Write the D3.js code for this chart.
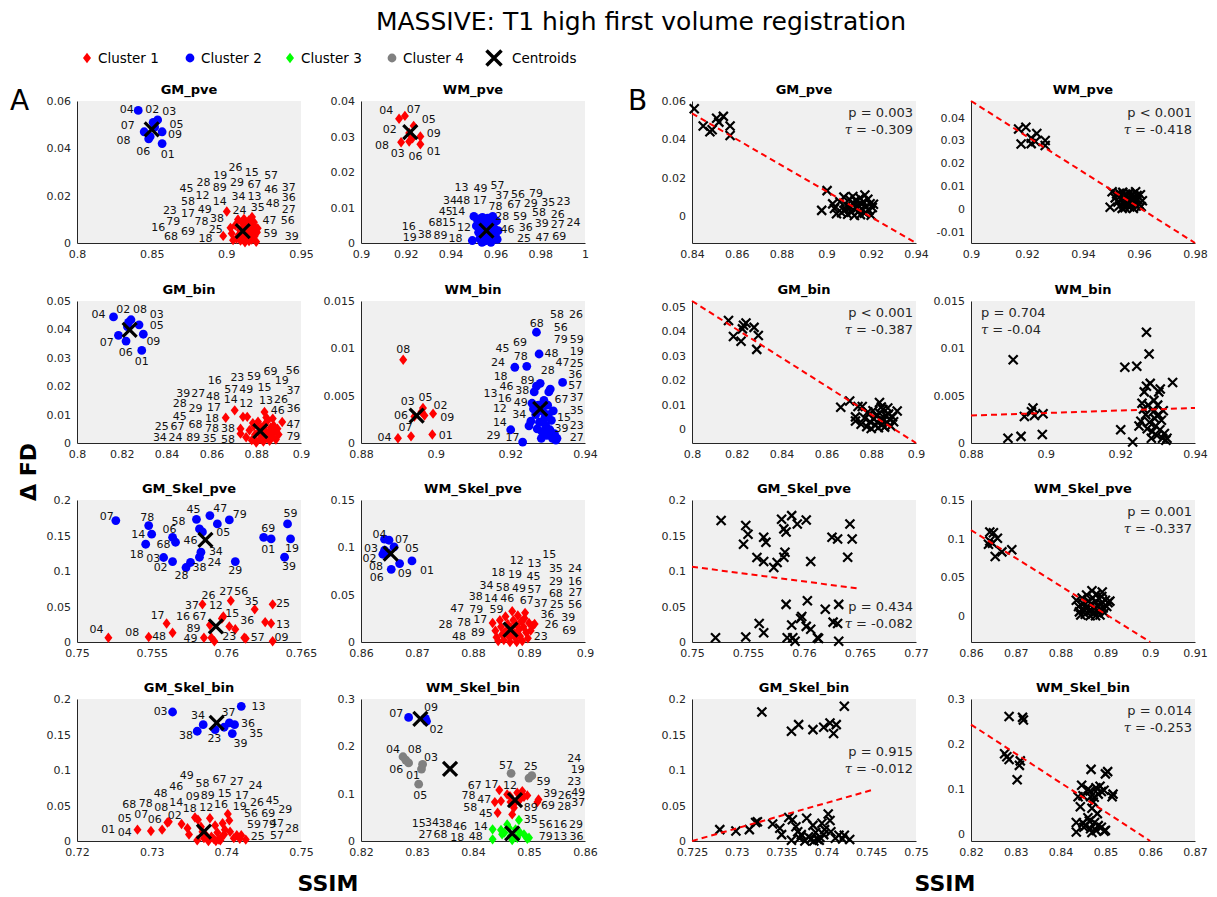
<!DOCTYPE html>
<html>
<head>
<meta charset="utf-8">
<script src="https://cdn.jsdelivr.net/npm/d3@7"></script>
<style>
  body { margin: 0; background: #fff; }
  text { font-family: "DejaVu Sans", sans-serif; }
</style>
</head>
<body>
<div id="chart"></div>
<script>
// ---- data ----
const panelNames = ["GM_pve", "WM_pve", "GM_bin", "WM_bin", "GM_Skel_pve", "WM_Skel_pve", "GM_Skel_bin", "WM_Skel_bin"];
const clusterNames = ["Cluster 1", "Cluster 2", "Cluster 3", "Cluster 4"];

// GM_pve
const gmPveC1 = [[0.9003,0.0133],[0.8979,0.0030],[0.9028,0.0064],[0.9036,0.0040],[0.9045,0.0012],[0.9060,0.0075],[0.9078,0.0099],[0.9078,0.0029],[0.9090,0.0055],[0.9095,0.0010],[0.9102,0.0088],[0.9108,0.0047],[0.9112,0.0020],[0.9120,0.0068],[0.9125,0.0003],[0.9130,0.0082],[0.9135,0.0040],[0.9140,0.0058],[0.9144,0.0025],[0.9150,0.0095],[0.9152,0.0008],[0.9158,0.0062],[0.9160,0.0035],[0.9165,0.0075],[0.9170,0.0015],[0.9172,0.0110],[0.9178,0.0050],[0.9185,0.0088],[0.9190,0.0030],[0.9195,0.0065],[0.9200,0.0005],[0.9205,0.0045],[0.9210,0.0062],[0.9085,0.0035],[0.9068,0.0018],[0.9118,0.0102]];
const gmPveC2 = [[0.857,0.042],[0.851,0.051],[0.854,0.052],[0.841,0.056],[0.852,0.049],[0.849,0.045],[0.845,0.047],[0.848,0.044],[0.857,0.047]];
const gmPveCent = [[0.911,0.005],[0.850,0.048]];
const gmPveLabels = [["04",0.8333,0.0565],["02",0.8504,0.0565],["03",0.8618,0.0558],["05",0.8667,0.0503],["07",0.834,0.0496],["09",0.8656,0.0459],["08",0.8311,0.0436],["06",0.8444,0.0389],["01",0.8607,0.0377],
  ["26",0.9062,0.0320],["15",0.9171,0.0299],["57",0.9300,0.0285],["19",0.8960,0.0288],["29",0.9071,0.0257],["67",0.9189,0.0249],["46",0.9300,0.0229],["37",0.9418,0.0236],["28",0.8847,0.0256],["89",0.8956,0.0236],["45",0.8733,0.0232],["12",0.8840,0.0201],["34",0.9082,0.0197],["13",0.9189,0.0197],["36",0.9418,0.0194],["58",0.8744,0.0176],["14",0.8956,0.0178],["48",0.9311,0.0169],["35",0.9211,0.0152],["23",0.8622,0.0140],["49",0.8856,0.0143],["24",0.9089,0.0140],["27",0.9418,0.0145],["17",0.8744,0.0125],["79",0.8644,0.0094],["78",0.8833,0.0094],["38",0.8938,0.0103],["47",0.9289,0.0098],["56",0.9411,0.0098],["16",0.8544,0.0066],["25",0.8929,0.0060],["68",0.8629,0.0028],["69",0.8744,0.0049],["18",0.8860,0.0021],["59",0.9296,0.0042],["39",0.9438,0.0031]];

// WM_pve
const wmPveC1 = [[0.9265,0.0278],[0.9215,0.0310],[0.9215,0.0286],[0.9170,0.0350],[0.9235,0.0330],[0.9230,0.0295],[0.9196,0.0358],[0.9179,0.0284],[0.9265,0.0300]];
const wmPveC2 = [[0.9504,0.0075],[0.9497,0.0007],[0.9515,0.0048],[0.9520,0.0065],[0.9525,0.0030],[0.9530,0.0012],[0.9535,0.0058],[0.9538,0.0040],[0.9542,0.0072],[0.9545,0.0020],[0.9548,0.0050],[0.9550,0.0005],[0.9553,0.0035],[0.9556,0.0062],[0.9558,0.0015],[0.9560,0.0045],[0.9562,0.0028],[0.9565,0.0070],[0.9567,0.0008],[0.9570,0.0055],[0.9572,0.0038],[0.9575,0.0020],[0.9578,0.0065],[0.9580,0.0002],[0.9582,0.0048],[0.9585,0.0030],[0.9588,0.0075],[0.9590,0.0012],[0.9593,0.0058],[0.9596,0.0040],[0.9600,0.0020],[0.9605,0.0062],[0.9608,0.0010],[0.9540,0.0002],[0.9530,0.0068],[0.9612,0.0035]];
const wmPveCent = [[0.922,0.0312],[0.956,0.0035]];
const wmPveLabels = [["04",0.9113,0.0373],["07",0.9236,0.0378],["05",0.9303,0.0348],["02",0.9128,0.0320],["09",0.9325,0.0309],["08",0.9094,0.0276],["03",0.9164,0.0253],["06",0.9243,0.0244],["01",0.9325,0.0258],
  ["13",0.9449,0.0156],["49",0.9534,0.0154],["57",0.9609,0.0164],["37",0.9631,0.0136],["56",0.9701,0.0138],["79",0.9781,0.0141],["34",0.9397,0.0122],["48",0.9457,0.0122],["17",0.9531,0.0122],["67",0.9684,0.0109],["29",0.9758,0.0112],["35",0.9836,0.0114],["23",0.9904,0.0117],["45",0.9378,0.0091],["14",0.9434,0.0091],["78",0.9601,0.0103],["28",0.9631,0.0075],["59",0.9710,0.0077],["58",0.9795,0.0086],["26",0.9878,0.0082],["68",0.9333,0.0059],["15",0.9393,0.0059],["12",0.9460,0.0044],["46",0.9654,0.0040],["36",0.9736,0.0044],["39",0.9807,0.0056],["27",0.9878,0.0054],["24",0.9949,0.0058],["16",0.9213,0.0047],["19",0.9218,0.0016],["38",0.9285,0.0025],["89",0.9355,0.0021],["18",0.9422,0.0014],["25",0.9728,0.0014],["47",0.9810,0.0017],["69",0.9885,0.0019]];

// GM_bin
const gmBinC1 = [[0.8664,0.0089],[0.8704,0.0115],[0.8741,0.0092],[0.8760,0.0092],[0.8837,0.0109],[0.8730,0.0050],[0.8730,0.0033],[0.8874,0.0086],[0.8916,0.0074],[0.8755,0.0020],[0.8770,0.0045],[0.8780,0.0010],[0.8790,0.0060],[0.8795,0.0030],[0.8800,0.0002],[0.8808,0.0075],[0.8812,0.0040],[0.8818,0.0015],[0.8822,0.0055],[0.8828,0.0028],[0.8832,0.0005],[0.8838,0.0065],[0.8842,0.0042],[0.8848,0.0018],[0.8852,0.0080],[0.8855,0.0035],[0.8860,0.0008],[0.8865,0.0055],[0.8870,0.0025],[0.8878,0.0062],[0.8882,0.0040],[0.8888,0.0012],[0.8895,0.0050],[0.8900,0.0030],[0.8785,0.0070],[0.8845,0.0090]];
const gmBinC2 = [[0.8289,0.0326],[0.8230,0.0425],[0.8277,0.0416],[0.8163,0.0444],[0.8225,0.0410],[0.8219,0.0359],[0.8185,0.0379],[0.8241,0.0434],[0.8296,0.0383]];
const gmBinCent = [[0.8818,0.0042],[0.8235,0.0398]];
const gmBinLabels = [["04",0.8096,0.0455],["02",0.8207,0.0473],["08",0.8281,0.0473],["03",0.8356,0.0453],["05",0.8356,0.0414],["07",0.8133,0.0356],["09",0.8341,0.0359],["06",0.8218,0.0320],["01",0.8289,0.0289],
  ["16",0.8615,0.0223],["23",0.8716,0.0232],["59",0.8790,0.0235],["69",0.8864,0.0252],["56",0.8963,0.0256],["39",0.8474,0.0176],["27",0.8541,0.0176],["48",0.8607,0.0164],["57",0.8689,0.0191],["49",0.8756,0.0188],["15",0.8837,0.0197],["19",0.8914,0.0221],["37",0.8967,0.0185],["28",0.8459,0.0139],["29",0.8529,0.0123],["17",0.8612,0.0127],["14",0.8686,0.0156],["12",0.8756,0.0141],["13",0.8844,0.0150],["26",0.8911,0.0156],["36",0.8967,0.0123],["45",0.8459,0.0095],["18",0.8603,0.0089],["46",0.8896,0.0115],["25",0.8378,0.0059],["67",0.8449,0.0059],["68",0.8529,0.0068],["78",0.8603,0.0054],["38",0.8674,0.0054],["47",0.8967,0.0066],["34",0.8370,0.0021],["24",0.8440,0.0021],["89",0.8519,0.0021],["35",0.8593,0.0018],["58",0.8674,0.0015],["79",0.8966,0.0023]];

// WM_bin
const wmBinC1 = [[0.8991,0.0009],[0.8993,0.0031],[0.8962,0.0033],[0.8899,0.0005],[0.8966,0.0037],[0.8943,0.0028],[0.8934,0.0007],[0.8913,0.0088],[0.8970,0.0029]];
const wmBinC2 = [[0.9270,0.0117],[0.9277,0.0094],[0.9212,0.0080],[0.9244,0.0081],[0.9280,0.0063],[0.9340,0.0064],[0.9307,0.0057],[0.9264,0.0054],[0.9201,0.0014],[0.9233,0.0001],[0.9313,0.0005],[0.9325,0.0005],[0.9270,0.0060],[0.9303,0.0054],[0.9250,0.0018],[0.9255,0.0023],[0.9262,0.0036],[0.9268,0.0030],[0.9275,0.0040],[0.9278,0.0022],[0.9285,0.0012],[0.9288,0.0033],[0.9292,0.0026],[0.9295,0.0018],[0.9298,0.0008],[0.9302,0.0030],[0.9306,0.0014],[0.9310,0.0024],[0.9315,0.0034],[0.9318,0.0010],[0.9322,0.0003],[0.9283,0.0005],[0.9290,0.0045],[0.9272,0.0015],[0.9258,0.0042],[0.9300,0.0040]];
const wmBinCent = [[0.8949,0.0029],[0.9280,0.0036]];
const wmBinLabels = [["08",0.8913,0.00996],["03",0.8925,0.0044],["05",0.8973,0.0048],["02",0.9013,0.0040],["06",0.8907,0.0029],["09",0.9031,0.0027],["07",0.8919,0.0017],["04",0.8863,0.0006],["01",0.9027,0.0008],
  ["58",0.9325,0.01366],["26",0.9376,0.01366],["68",0.9271,0.01261],["56",0.9335,0.01225],["69",0.9226,0.01067],["79",0.9335,0.01095],["59",0.9378,0.01095],["45",0.9179,0.01004],["78",0.9228,0.00915],["48",0.9310,0.00951],["19",0.9378,0.00972],["24",0.9167,0.00856],["47",0.9340,0.00856],["25",0.9378,0.00845],["18",0.9174,0.00708],["28",0.9300,0.00768],["36",0.9374,0.00725],["46",0.9190,0.00599],["89",0.9246,0.00662],["38",0.9232,0.00556],["57",0.9374,0.00616],["13",0.9147,0.00528],["16",0.9185,0.00475],["49",0.9228,0.00433],["67",0.9337,0.00468],["37",0.9378,0.00486],["12",0.9172,0.00363],["34",0.9224,0.00310],["35",0.9378,0.00352],["14",0.9172,0.00222],["15",0.9344,0.00275],["23",0.9378,0.00187],["29",0.9155,0.00081],["17",0.9206,0.00063],["39",0.9337,0.00158],["27",0.9378,0.00063]];

// GM_Skel_pve
const gmSkPveC1 = [[0.7521,0.006],[0.7548,0.007],[0.7560,0.026],[0.7564,0.013],[0.7584,0.053],[0.7585,0.006],[0.7589,0.024],[0.7590,0.006],[0.7592,0.001],[0.7597,0.033],[0.7598,0.036],[0.7603,0.058],[0.7602,0.022],[0.7606,0.018],[0.7612,0.006],[0.7613,0.005],[0.7619,0.046],[0.7626,0.028],[0.7631,0.053],[0.7630,0.026],[0.7631,0.001]];
const gmSkPveC2 = [[0.7526,0.171],[0.7548,0.164],[0.7550,0.1518],[0.7546,0.1377],[0.7564,0.1475],[0.7566,0.1405],[0.7558,0.119],[0.7564,0.1133],[0.7573,0.1049],[0.7576,0.112],[0.7580,0.1728],[0.7582,0.1593],[0.7589,0.178],[0.7594,0.1663],[0.7602,0.1719],[0.7584,0.155],[0.7583,0.1265],[0.7582,0.1194],[0.7606,0.1133],[0.7625,0.1475],[0.7630,0.1452],[0.7641,0.1663],[0.7643,0.1452],[0.7639,0.1194]];
const gmSkPveCent = [[0.7593,0.022],[0.7586,0.1438]];
const gmSkPveLabels = [["07",0.7520,0.1775],["78",0.7547,0.1752],["14",0.7541,0.1518],["18",0.7540,0.1236],["06",0.7562,0.1593],["68",0.7558,0.1377],["03",0.7551,0.1180],["02",0.7556,0.1049],["28",0.7570,0.0937],["38",0.7582,0.1049],["45",0.7578,0.1869],["58",0.7568,0.1696],["47",0.7596,0.1892],["05",0.7598,0.1546],["79",0.7609,0.1799],["46",0.7576,0.1438],["34",0.7593,0.1274],["24",0.7592,0.1124],["29",0.7606,0.1007],["69",0.7628,0.1602],["01",0.7628,0.1311],["59",0.7643,0.1813],["19",0.7644,0.1321],["39",0.7642,0.1063],
  ["26",0.7588,0.0665],["27",0.7600,0.0712],["56",0.7610,0.0712],["37",0.7577,0.0515],["12",0.7593,0.0515],["35",0.7617,0.0571],["25",0.7638,0.0548],["17",0.7554,0.0384],["16",0.7571,0.0361],["67",0.7582,0.0361],["15",0.7604,0.0407],["36",0.7614,0.0314],["13",0.7638,0.0253],["89",0.7578,0.0197],["04",0.7513,0.0187],["08",0.7537,0.0141],["48",0.7555,0.0089],["49",0.7576,0.0056],["23",0.7602,0.0080],["57",0.7621,0.0066],["09",0.7637,0.0066]];

// WM_Skel_pve
const wmSkPveC1 = [[0.8835,0.0200],[0.8840,0.0120],[0.8842,0.0050],[0.8848,0.0230],[0.8850,0.0160],[0.8852,0.0080],[0.8855,0.0020],[0.8858,0.0270],[0.8860,0.0120],[0.8862,0.0190],[0.8864,0.0060],[0.8866,0.0000],[0.8868,0.0150],[0.8870,0.0325],[0.8872,0.0230],[0.8874,0.0090],[0.8876,0.0040],[0.8878,0.0180],[0.8880,0.0280],[0.8882,0.0130],[0.8884,0.0060],[0.8886,0.0220],[0.8888,0.0010],[0.8890,0.0160],[0.8893,0.0308],[0.8895,0.0100],[0.8898,0.0040],[0.8900,0.0200],[0.8903,0.0120],[0.8906,0.0170],[0.8910,0.0190],[0.8845,0.0010],[0.8878,0.0000],[0.8856,0.0100],[0.8868,0.0070],[0.8892,0.0250]];
const wmSkPveC2 = [[0.8642,0.1086],[0.8650,0.1075],[0.8659,0.1005],[0.8642,0.0969],[0.8639,0.0927],[0.8648,0.0940],[0.8654,0.0768],[0.8669,0.0828],[0.8691,0.0856]];
const wmSkPveCent = [[0.8867,0.0131],[0.8653,0.0934]];
const wmSkPveLabels = [["04",0.8633,0.1141],["07",0.8673,0.1089],["05",0.8691,0.0993],["03",0.8618,0.0993],["02",0.8615,0.0881],["08",0.8627,0.0803],["06",0.8628,0.0686],["09",0.8678,0.0732],["01",0.8718,0.0761],
  ["15",0.8936,0.0927],["12",0.8878,0.0863],["13",0.8910,0.0838],["35",0.8948,0.0778],["24",0.8982,0.0778],["18",0.8845,0.0739],["19",0.8875,0.0715],["45",0.8908,0.0697],["29",0.8948,0.0644],["16",0.8982,0.0644],["34",0.8824,0.0601],["58",0.8853,0.0580],["49",0.8882,0.0573],["57",0.8910,0.0562],["68",0.8948,0.0520],["27",0.8983,0.0527],["38",0.8805,0.0485],["14",0.8832,0.0467],["46",0.8861,0.0460],["67",0.8896,0.0439],["37",0.8921,0.0414],["25",0.8950,0.0396],["56",0.8982,0.0396],["47",0.8772,0.0361],["79",0.8806,0.0350],["59",0.8842,0.0350],["36",0.8933,0.0297],["39",0.8970,0.0265],["28",0.8751,0.0184],["78",0.8784,0.0212],["17",0.8813,0.0237],["26",0.8940,0.0184],["69",0.8972,0.0124],["48",0.8775,0.0060],["89",0.8809,0.0103],["23",0.8921,0.0067]];

// GM_Skel_bin
const gmSkBinC1 = [[0.7281,0.016],[0.7299,0.014],[0.7314,0.016],[0.7321,0.026],[0.7323,0.027],[0.7340,0.024],[0.7348,0.018],[0.7350,0.009],[0.7358,0.033],[0.7362,0.030],[0.7361,0.001],[0.7368,0.013],[0.7370,0.004],[0.7372,0.009],[0.7378,0.032],[0.7380,0.006],[0.7383,0.003],[0.7385,0.022],[0.7388,0.012],[0.7390,0.002],[0.7393,0.005],[0.7397,0.009],[0.7395,0.025],[0.7398,0.016],[0.7402,0.038],[0.7404,0.029],[0.7405,0.013],[0.7410,0.004],[0.7414,0.008],[0.7418,0.003],[0.7420,0.008],[0.7426,0.002],[0.7376,0.000],[0.7386,0.000],[0.7366,0.020],[0.7392,0.001]];
const gmSkBinC2 = [[0.7328,0.1817],[0.7420,0.1897],[0.7369,0.1639],[0.7404,0.1663],[0.7411,0.1639],[0.7361,0.1546],[0.7385,0.1569],[0.7397,0.1602],[0.7408,0.1513]];
const gmSkBinCent = [[0.7370,0.0131],[0.7387,0.1663]];
const gmSkBinLabels = [["03",0.7312,0.1827],["13",0.7443,0.1906],["34",0.7362,0.1766],["37",0.7403,0.1813],["36",0.7429,0.1663],["38",0.7346,0.1485],["23",0.7384,0.1452],["35",0.7440,0.1513],["39",0.7419,0.1382],
  ["49",0.7347,0.0927],["58",0.7368,0.0820],["67",0.7391,0.0867],["27",0.7414,0.0843],["24",0.7439,0.0782],["46",0.7333,0.0773],["48",0.7312,0.0670],["78",0.7292,0.0539],["68",0.7270,0.0515],["14",0.7333,0.0548],["09",0.7355,0.0632],["89",0.7375,0.0646],["15",0.7398,0.0670],["17",0.7421,0.0646],["26",0.7441,0.0548],["45",0.7462,0.0576],["08",0.7313,0.0478],["18",0.7351,0.0468],["12",0.7373,0.0482],["16",0.7393,0.0515],["19",0.7418,0.0492],["29",0.7479,0.0454],["05",0.7264,0.0318],["07",0.7286,0.0375],["06",0.7304,0.0314],["02",0.7331,0.0365],["56",0.7433,0.0389],["69",0.7456,0.0398],["01",0.7242,0.0164],["04",0.7264,0.0131],["59",0.7437,0.0234],["79",0.7457,0.0244],["47",0.7468,0.0248],["28",0.7488,0.0187],["25",0.7442,0.0070],["57",0.7468,0.0080]];

// WM_Skel_bin
const wmSkBinC1 = [[0.8447,0.1075],[0.8439,0.0822],[0.8450,0.0843],[0.8461,0.0984],[0.8479,0.1019],[0.8488,0.1054],[0.8497,0.0963],[0.8484,0.0878],[0.8467,0.0822],[0.8473,0.0703],[0.8470,0.0562],[0.8444,0.0597],[0.8517,0.0878],[0.8515,0.0822],[0.8466,0.0949],[0.8491,0.0935],[0.8475,0.0808]];
const wmSkBinC2 = [[0.8285,0.261],[0.8315,0.259],[0.8317,0.253]];
const wmSkBinC3 = [[0.8435,0.0246],[0.8435,0.0035],[0.8450,0.0232],[0.8456,0.0176],[0.8461,0.0351],[0.8467,0.0105],[0.8470,0.0021],[0.8482,0.0443],[0.8484,0.0176],[0.8497,0.0049],[0.8500,0.0070],[0.8476,0.0246],[0.8464,0.0281],[0.8491,0.0141],[0.8452,0.0141],[0.8479,0.0070]];
const wmSkBinC4 = [[0.8275,0.178],[0.8280,0.171],[0.8285,0.165],[0.8310,0.162],[0.8308,0.152],[0.8303,0.120],[0.8468,0.143],[0.8500,0.133],[0.8505,0.138]];
const wmSkBinCent = [[0.8475,0.0864],[0.8306,0.2579],[0.8470,0.0162],[0.8359,0.1525]];
const wmSkBinLabels = [["07",0.8263,0.2706],["09",0.8325,0.2825],["02",0.8335,0.2368],
  ["04",0.8257,0.1933],["08",0.8296,0.1933],["03",0.8325,0.1778],["06",0.8263,0.1511],["01",0.8293,0.1391],["05",0.8306,0.0963],["57",0.8459,0.1595],["25",0.8503,0.1581],["59",0.8526,0.1265],
  ["67",0.8403,0.1181],["17",0.8433,0.1209],["12",0.8466,0.1181],["78",0.8392,0.0970],["47",0.8420,0.0878],["58",0.8395,0.0717],["45",0.8423,0.0597],["89",0.8503,0.0717],["39",0.8538,0.1005],["26",0.8564,0.0970],["49",0.8588,0.1040],["69",0.8534,0.0752],["28",0.8563,0.0738],["37",0.8588,0.0822],["24",0.8581,0.1757],["19",0.8587,0.1511],["23",0.8581,0.1265],
  ["15",0.8303,0.0387],["34",0.8327,0.0401],["38",0.8351,0.0387],["46",0.8377,0.0316],["14",0.8414,0.0316],["27",0.8315,0.0155],["68",0.8342,0.0155],["18",0.8372,0.0091],["48",0.8405,0.0105],["35",0.8503,0.0457],["56",0.8530,0.0365],["16",0.8556,0.0365],["29",0.8584,0.0365],["79",0.8530,0.0105],["13",0.8556,0.0105],["36",0.8585,0.0105]];

// axis ranges and ticks, panel A
const xDomainA = [[0.8,0.95],[0.9,1],[0.8,0.9],[0.88,0.94],[0.75,0.765],[0.86,0.9],[0.72,0.75],[0.82,0.86]];
const yDomainA = [[0,0.06],[0,0.04],[0,0.05],[0,0.015],[0,0.2],[0,0.15],[0,0.2],[0,0.3]];
const xTicksA = [[0.8,0.85,0.9,0.95],[0.9,0.92,0.94,0.96,0.98,1],[0.8,0.82,0.84,0.86,0.88,0.9],[0.88,0.9,0.92,0.94],[0.75,0.755,0.76,0.765],[0.86,0.87,0.88,0.89,0.9],[0.72,0.73,0.74,0.75],[0.82,0.83,0.84,0.85,0.86]];
const yTicksA = [[0,0.02,0.04,0.06],[0,0.01,0.02,0.03,0.04],[0,0.01,0.02,0.03,0.04,0.05],[0,0.005,0.01,0.015],[0,0.05,0.1,0.15,0.2],[0,0.05,0.1,0.15],[0,0.05,0.1,0.15,0.2],[0,0.1,0.2,0.3]];

// axis ranges and ticks, panel B
const xDomainB = [[0.84,0.94],[0.9,0.98],[0.8,0.9],[0.88,0.94],[0.75,0.77],[0.86,0.91],[0.725,0.75],[0.82,0.87]];
const yDomainB = [[-0.014,0.06],[-0.015,0.0473],[-0.0057,0.0524],[0,0.015],[0,0.2],[-0.034,0.15],[0,0.2],[-0.0167,0.3]];
const xTicksB = [[0.84,0.86,0.88,0.9,0.92,0.94],[0.9,0.92,0.94,0.96,0.98],[0.8,0.82,0.84,0.86,0.88,0.9],[0.88,0.9,0.92,0.94],[0.75,0.755,0.76,0.765,0.77],[0.86,0.87,0.88,0.89,0.9,0.91],[0.725,0.73,0.735,0.74,0.745,0.75],[0.82,0.83,0.84,0.85,0.86,0.87]];
const yTicksB = [[0,0.02,0.04,0.06],[-0.01,0,0.01,0.02,0.03,0.04],[0,0.01,0.02,0.03,0.04,0.05],[0,0.005,0.01,0.015],[0,0.05,0.1,0.15,0.2],[0,0.05,0.1,0.15],[0,0.05,0.1,0.15,0.2],[0,0.1,0.2,0.3]];

// regression line end points and Kendall stats
const fitX = [[0.84,0.94],[0.9,0.98],[0.8,0.9],[0.88,0.94],[0.75,0.765],[0.86,0.9],[0.725,0.745],[0.82,0.86]];
const fitY = [[0.0535,-0.014],[0.0473,-0.015],[0.0524,-0.0057],[0.0029,0.0037],[0.106,0.075],[0.111,-0.034],[0,0.0715],[0.243,-0.0167]];
const pText = ["p = 0.003","p < 0.001","p < 0.001","p = 0.704","p = 0.434","p = 0.001","p = 0.915","p = 0.014"];
const tauText = ["-0.309","-0.418","-0.387","-0.04","-0.082","-0.337","-0.012","-0.253"];

// ---- layout ----
const W = 1217, H = 897;
const colX = [77, 361, 692, 971];
const rowY = [101, 301, 500, 699];
const PW = 224, PH = 142;
const statSide = ["right","right","right","left","right","right","right","right"];
const statDy = [11, 11, 11, 11, 106, 11, 52, 11];

const clusterColor = ["#ff0000", "#0000ff", "#00ff00", "#808080"];
const clusterShape = ["diamond", "circle", "diamond", "circle"];
const axisColor = "#262626";
const fmt = v => String(+v.toFixed(4));

const panels = [
  { c: [gmPveC1, gmPveC2], cent: gmPveCent, labels: gmPveLabels },
  { c: [wmPveC1, wmPveC2], cent: wmPveCent, labels: wmPveLabels },
  { c: [gmBinC1, gmBinC2], cent: gmBinCent, labels: gmBinLabels },
  { c: [wmBinC1, wmBinC2], cent: wmBinCent, labels: wmBinLabels },
  { c: [gmSkPveC1, gmSkPveC2], cent: gmSkPveCent, labels: gmSkPveLabels },
  { c: [wmSkPveC1, wmSkPveC2], cent: wmSkPveCent, labels: wmSkPveLabels },
  { c: [gmSkBinC1, gmSkBinC2], cent: gmSkBinCent, labels: gmSkBinLabels },
  { c: [wmSkBinC1, wmSkBinC2, wmSkBinC3, wmSkBinC4], cent: wmSkBinCent, labels: wmSkBinLabels }
];

const svg = d3.select("#chart").append("svg")
  .attr("width", W).attr("height", H)
  .style("background-color", "white");

// marker helpers
const diamondPath = "M0,-5.2L4,0L0,5.2L-4,0Z";
function drawMarker(g, shape, color, x, y) {
  if (shape === "diamond") {
    g.append("path").attr("d", diamondPath)
      .attr("transform", `translate(${x},${y})`).attr("fill", color);
  } else {
    g.append("circle").attr("cx", x).attr("cy", y).attr("r", 4.4).attr("fill", color);
  }
}
function drawCross(g, x, y, s, w, color) {
  g.append("path")
    .attr("d", `M${x - s},${y - s}L${x + s},${y + s}M${x - s},${y + s}L${x + s},${y - s}`)
    .attr("stroke", color).attr("stroke-width", w).attr("fill", "none");
}

// axes frame (MATLAB style: box off, grey background)
function drawFrame(g, x, y, xTicks, yTicks, title) {
  g.append("rect").attr("width", PW).attr("height", PH).attr("fill", "#f0f0f0");
  const xa = g.append("g").attr("transform", `translate(0,${PH})`)
    .call(d3.axisBottom(x).tickValues(xTicks).tickFormat(fmt).tickSize(0).tickPadding(7));
  const ya = g.append("g")
    .call(d3.axisLeft(y).tickValues(yTicks).tickFormat(fmt).tickSize(0).tickPadding(6));
  [xa, ya].forEach(a => {
    a.select(".domain").attr("stroke", axisColor).attr("stroke-width", 1);
    a.selectAll("text").attr("fill", axisColor)
      .style("font-family", "DejaVu Sans, sans-serif").style("font-size", "11px");
  });
  g.append("text").attr("x", PW / 2).attr("y", -7)
    .attr("text-anchor", "middle")
    .style("font-size", "13px").style("font-weight", "bold")
    .text(title);
}

// ---- panels A ----
panels.forEach((p, i) => {
  const g = svg.append("g")
    .attr("transform", `translate(${colX[i % 2]},${rowY[Math.floor(i / 2)]})`);
  const x = d3.scaleLinear().domain(xDomainA[i]).range([0, PW]);
  const y = d3.scaleLinear().domain(yDomainA[i]).range([PH, 0]);
  drawFrame(g, x, y, xTicksA[i], yTicksA[i], panelNames[i]);

  const pts = g.append("g");
  p.c.forEach((cl, k) => {
    cl.forEach(d => drawMarker(pts, clusterShape[k], clusterColor[k], x(d[0]), y(d[1])));
  });
  p.cent.forEach(d => drawCross(g, x(d[0]), y(d[1]), 7, 3.2, "#000"));

  g.append("g").selectAll("text").data(p.labels).enter().append("text")
    .attr("x", d => x(d[1])).attr("y", d => y(d[2]))
    .attr("text-anchor", "middle").attr("dy", "0.35em")
    .style("font-size", "11px").attr("fill", "#111")
    .text(d => d[0]);
});

// ---- panels B ----
panels.forEach((p, i) => {
  const g = svg.append("g")
    .attr("transform", `translate(${colX[2 + i % 2]},${rowY[Math.floor(i / 2)]})`);
  const x = d3.scaleLinear().domain(xDomainB[i]).range([0, PW]);
  const y = d3.scaleLinear().domain(yDomainB[i]).range([PH, 0]);
  drawFrame(g, x, y, xTicksB[i], yTicksB[i], panelNames[i]);

  const pts = g.append("g");
  p.c.forEach(cl => cl.forEach(d => drawCross(pts, x(d[0]), y(d[1]), 4.5, 2.2, "#000")));

  g.append("line")
    .attr("x1", x(fitX[i][0])).attr("y1", y(fitY[i][0]))
    .attr("x2", x(fitX[i][1])).attr("y2", y(fitY[i][1]))
    .attr("stroke", "#ff0000").attr("stroke-width", 2)
    .attr("stroke-dasharray", "6,4");

  const right = statSide[i] === "right";
  const tx = right ? PW - 3 : 10;
  const anchor = right ? "end" : "start";
  g.append("text").attr("x", tx).attr("y", statDy[i]).attr("dy", "0.35em")
    .attr("text-anchor", anchor).attr("fill", axisColor)
    .style("font-size", "13px").text(pText[i]);
  const t2 = g.append("text").attr("x", tx).attr("y", statDy[i] + 17).attr("dy", "0.35em")
    .attr("text-anchor", anchor).attr("fill", axisColor).style("font-size", "13px");
  t2.append("tspan").style("font-family", "DejaVu Serif, serif").style("font-style", "italic").text("τ");
  t2.append("tspan").text(" = " + tauText[i]);
});

// ---- figure texts ----
svg.append("text").attr("x", 641).attr("y", 30).attr("text-anchor", "middle")
  .style("font-size", "25px").attr("fill", "#000")
  .text("MASSIVE: T1 high first volume registration");

svg.append("text").attr("x", 10).attr("y", 110).style("font-size", "28px").text("A");
svg.append("text").attr("x", 628).attr("y", 110).style("font-size", "28px").text("B");

svg.append("text").attr("transform", "translate(36,472) rotate(-90)")
  .attr("text-anchor", "middle").style("font-size", "22px").style("font-weight", "bold")
  .text("Δ FD");
[328, 945].forEach(cx => {
  svg.append("text").attr("x", cx).attr("y", 891).attr("text-anchor", "middle")
    .style("font-size", "22px").style("font-weight", "bold").text("SSIM");
});

// legend
const legend = svg.append("g").attr("transform", "translate(0,58)");
const legendX = [87, 190, 290, 392];
clusterNames.forEach((name, k) => {
  drawMarker(legend, clusterShape[k], clusterColor[k], legendX[k], 0);
  legend.append("text").attr("x", legendX[k] + 11).attr("y", 0).attr("dy", "0.35em")
    .style("font-size", "13.5px").text(name);
});
drawCross(legend, 494, 0, 7.5, 3.5, "#000");
legend.append("text").attr("x", 512).attr("y", 0).attr("dy", "0.35em")
  .style("font-size", "13.5px").text("Centroids");
</script>
</body>
</html>
